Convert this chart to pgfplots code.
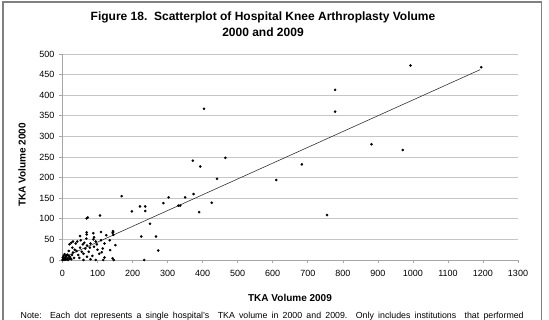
\documentclass[border=0pt]{standalone}
\usepackage{fontspec}
\setmainfont{Liberation Sans}
\usepackage{pgfplots}
\pgfplotsset{compat=1.18}
\begin{document}
\begin{tikzpicture}
\useasboundingbox (0pt,0pt) rectangle (549pt,320pt);
\node[font=\bfseries\fontsize{12}{16}\selectfont, align=center] at (263pt,296pt) {Figure 18.\ \ Scatterplot of Hospital Knee Arthroplasty Volume\\2000 and 2009};
\begin{axis}[
  at={(62.5pt,60pt)}, anchor=south west,
  scale only axis, width=455.5pt, height=206pt,
  xmin=0, xmax=1300, ymin=0, ymax=500,
  xtick distance=100, ytick distance=50,
  ymajorgrids, grid style={gray!45, line width=0.6pt},
  axis x line*=bottom, axis y line*=left,
  axis line style={gray!70, line width=0.6pt},
  tick style={gray!70, line width=0.6pt},
  tick align=outside, major tick length=3pt,
  tick label style={font=\fontsize{9}{10}\selectfont},
  xticklabel style={yshift=-4pt},
  yticklabel style={xshift=-1.5pt},
  /pgf/number format/assume math mode=true,
  /pgf/number format/1000 sep={},
]
\addplot[only marks, mark=*, mark size=1.1pt, black] coordinates {
(2,2) (5,5) (8,3) (10,8) (3,10) (12,2) (15,5) (6,14) (18,10) (20,3)
(1,6) (14,13) (22,7) (25,2) (9,1) (4,0) (16,0) (27,12) (0,0) (11,11)
(30,18) (35,25) (28,30) (40,22) (45,12) (50,30) (55,20) (38,40) (42,45) (25,42)
(20,38) (48,5) (60,15) (65,28) (70,35) (75,20) (80,40) (85,10) (90,32) (95,45)
(100,25) (105,15) (58,38) (52,48) (68,52) (88,50) (90,55) (110,48) (115,28) (120,6)
(112,19) (135,48) (145,61) (143,66) (151,36) (136,24) (143,4) (116,0) (80,2) (95,0)
(60,0) (33,5) (70,8) (50,58) (69,67) (69,62) (88,65) (110,68) (145,68) (144,70)
(69,101) (72,103) (107,108) (30,45) (62,42) (78,30) (98,38) (120,40) (125,60) (18,22)
(169,155) (198,118) (221,130) (236,130) (236,119) (288,138) (303,152) (250,88) (225,57) (267,57)
(273,23) (233,0) (146,0) (331,132) (336,132) (350,152) (374,160) (390,116) (372,241) (393,227)
(465,248) (441,197) (426,139) (404,367) (610,194) (683,232) (755,109) (778,413) (778,360) (882,281)
(971,267) (993,472) (1195,468)
};
\addplot[black!80, line width=0.6pt] coordinates {(0,5) (1192,462)};
\end{axis}
\node[font=\bfseries\fontsize{10}{12}\selectfont] at (290pt,22pt) {TKA Volume 2009};
\node[font=\bfseries\fontsize{10}{12}\selectfont, rotate=90] at (22pt,155pt) {TKA Volume 2000};
\node[font=\fontsize{8.8}{10}\selectfont, anchor=west, inner sep=0pt] at (20.5pt,4pt) {\makebox[503pt][s]{Note:\ \ Each dot represents a single hospital's\ \ TKA volume in 2000 and 2009. Only includes institutions\ \ that performed}};
\draw[gray, line width=1.5pt] (3pt,0pt) -- (3pt,318pt) -- (541.5pt,318pt) -- (541.5pt,0pt);
\end{tikzpicture}
\end{document}
